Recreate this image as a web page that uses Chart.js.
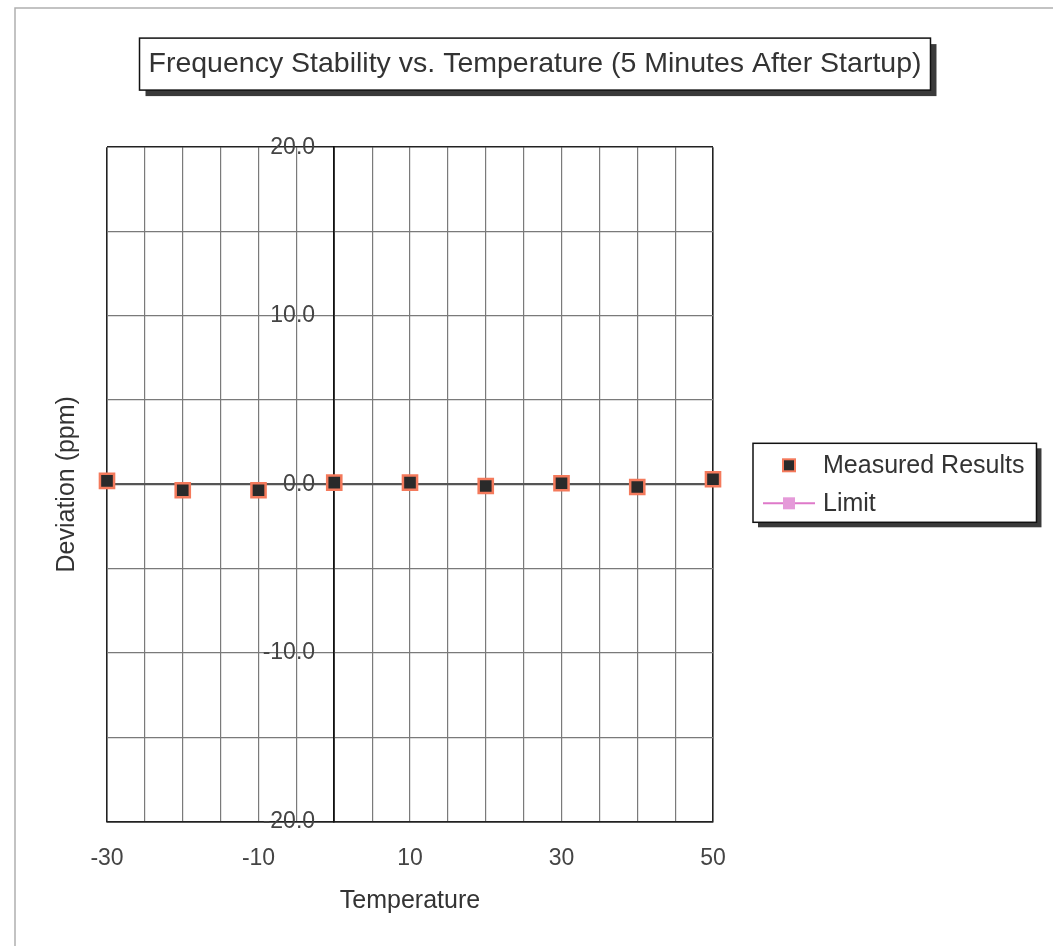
<!DOCTYPE html>
<html><head><meta charset="utf-8">
<script src="https://cdn.jsdelivr.net/npm/chart.js@4.4.1/dist/chart.umd.min.js"></script>
<style>html,body{margin:0;padding:0;background:#fff;} canvas{display:block;}</style>
</head><body>
<canvas id="c" width="1053" height="946"></canvas>
<script>
// ---- data ----
const chartTitle = 'Frequency Stability vs. Temperature (5 Minutes After Startup)';
const xAxisTitle = 'Temperature';
const yAxisTitle = 'Deviation (ppm)';
const seriesNames = ['Measured Results', 'Limit'];
const temperatures = [-30, -20, -10, 0, 10, 20, 30, 40, 50];
const measuredDeviation = [0.2, -0.35, -0.35, 0.1, 0.1, -0.1, 0.06, -0.16, 0.3];
const limitTemperatures = [];
const limitDeviation = [];
const xTickLabels = ['-30', '-10', '10', '30', '50'];
const yTickLabels = ['-20.0', '-10.0', '0.0', '10.0', '20.0'];

const FONT = "'Liberation Sans', Arial, Helvetica, sans-serif";
const LEGEND_FONT_SIZE = 25;

function drawLegendIcon(ctx, ds, cx, cy) {
  if (ds.showLine) {
    ctx.strokeStyle = ds.borderColor; ctx.lineWidth = 2;
    ctx.beginPath(); ctx.moveTo(cx - 26, cy); ctx.lineTo(cx + 26, cy); ctx.stroke();
  }
  ctx.fillStyle = ds.pointBackgroundColor;
  ctx.fillRect(cx - 6, cy - 6, 12, 12);
  if (ds.pointBorderColor !== ds.pointBackgroundColor) {
    ctx.strokeStyle = ds.pointBorderColor; ctx.lineWidth = 2;
    ctx.strokeRect(cx - 6, cy - 6, 12, 12);
  }
}

const framePlugin = {
  id: 'frames',
  beforeDraw(chart) {
    const ctx = chart.ctx;
    ctx.save();
    // scanned page border
    ctx.strokeStyle = '#b0b0b0'; ctx.lineWidth = 1.5;
    ctx.beginPath(); ctx.moveTo(15, chart.height); ctx.lineTo(15, 8); ctx.lineTo(chart.width, 8); ctx.stroke();
    // title frame
    const tb = chart.titleBlock;
    const tf = tb.options.font;
    ctx.font = tf.size + 'px ' + tf.family;
    const tw = ctx.measureText(chartTitle).width;
    const cx = (tb.left + tb.right) / 2;
    const cy = tb.top + tb.options.padding.top + tf.size * 1.2 / 2;
    const bx = cx - tw / 2 - 9, by = cy - 26, bw = tw + 18, bh = 52;
    ctx.fillStyle = '#3a3a3a'; ctx.fillRect(bx + 6, by + 6, bw, bh);
    ctx.fillStyle = '#fff'; ctx.fillRect(bx, by, bw, bh);
    ctx.strokeStyle = '#111'; ctx.lineWidth = 1.5; ctx.strokeRect(bx, by, bw, bh);
    ctx.restore();
  },
  afterDraw(chart) {
    // legend (right of plot)
    const ctx = chart.ctx;
    const area = chart.chartArea;
    const dsets = chart.data.datasets;
    ctx.save();
    ctx.font = LEGEND_FONT_SIZE + 'px ' + FONT;
    let maxW = 0;
    dsets.forEach(d => { maxW = Math.max(maxW, ctx.measureText(d.label).width); });
    const rowH = 38;
    const midY = (area.top + area.bottom) / 2;
    const left = area.right + 40;
    const top = midY - dsets.length * rowH / 2 - 3;
    const width = 70 + maxW + 12;
    const height = dsets.length * rowH + 3;
    ctx.fillStyle = '#3a3a3a'; ctx.fillRect(left + 5, top + 5, width, height);
    ctx.fillStyle = '#fff'; ctx.fillRect(left, top, width, height);
    ctx.strokeStyle = '#111'; ctx.lineWidth = 1.5; ctx.strokeRect(left, top, width, height);
    dsets.forEach((d, i) => {
      const cy = top + 22 + i * rowH;
      drawLegendIcon(ctx, d, left + 36, cy);
      ctx.fillStyle = '#333';
      ctx.textAlign = 'left'; ctx.textBaseline = 'middle';
      ctx.fillText(d.label, left + 70, cy + 1);
    });
    ctx.restore();
  }
};

const xy = (xs, ys) => xs.map((x, i) => ({ x: x, y: ys[i] }));
const GRID = '#7a7a7a';

new Chart(document.getElementById('c'), {
  type: 'scatter',
  data: {
    datasets: [
      {
        label: seriesNames[0],
        data: xy(temperatures, measuredDeviation),
        showLine: false,
        clip: false,
        pointStyle: 'rect',
        pointRadius: 10,
        pointHoverRadius: 10,
        pointBackgroundColor: '#2a2a2a',
        pointBorderColor: '#f47a5c',
        pointBorderWidth: 2.5,
        borderColor: '#f47a5c',
        backgroundColor: '#2a2a2a'
      },
      {
        label: seriesNames[1],
        data: xy(limitTemperatures, limitDeviation),
        showLine: true,
        clip: false,
        pointStyle: 'rect',
        pointRadius: 8,
        pointBackgroundColor: '#e59ad9',
        pointBorderColor: '#e59ad9',
        borderColor: '#de79c9',
        borderWidth: 2,
        backgroundColor: '#e59ad9'
      }
    ]
  },
  options: {
    responsive: false,
    animation: false,
    events: [],
    layout: { padding: { left: 27, right: 10, top: 0, bottom: 26 } },
    plugins: {
      tooltip: { enabled: false },
      legend: { display: false },
      title: {
        display: true,
        text: chartTitle,
        color: '#333',
        font: { family: FONT, size: 28.5, weight: 'normal' },
        padding: { top: 47, bottom: 66 }
      }
    },
    scales: {
      x: {
        type: 'linear',
        position: 'bottom',
        min: -30, max: 50,
        ticks: {
          stepSize: 5, autoSkip: false, maxRotation: 0, padding: 23,
          color: '#444', font: { family: FONT, size: 23 },
          callback: (v) => xTickLabels.includes(String(v)) ? String(v) : ''
        },
        grid: {
          drawTicks: false,
          color: (c) => (c.tick.value === 0 ? '#111' : (c.tick.value === -30 || c.tick.value === 50) ? '#222' : GRID),
          lineWidth: (c) => (c.tick.value === 0 || c.tick.value === -30 || c.tick.value === 50) ? 1.6 : 1.2
        },
        border: { display: true, color: '#222', width: 1.6 },
        title: {
          display: true, text: xAxisTitle, color: '#333',
          font: { family: FONT, size: 25 },
          padding: { top: -9, bottom: 4 }
        }
      },
      y: {
        type: 'linear',
        position: { x: 0 },
        min: -20, max: 20,
        ticks: {
          stepSize: 5, autoSkip: false, padding: 22,
          color: '#444', font: { family: FONT, size: 23 },
          callback: (v) => { const s = Number(v).toFixed(1); return yTickLabels.includes(s) ? s + '   ' : ''; }
        },
        grid: {
          drawTicks: false,
          color: (c) => (c.tick.value === 0 ? '#555' : (c.tick.value === -20 || c.tick.value === 20) ? '#222' : GRID),
          lineWidth: (c) => (c.tick.value === 0 ? 2.2 : (c.tick.value === -20 || c.tick.value === 20) ? 1.6 : 1.2)
        },
        border: { display: true, color: '#111', width: 1.6 }
      },
      yTitle: {
        type: 'linear',
        position: 'left',
        min: -20, max: 20,
        ticks: { display: false },
        grid: { display: false, drawTicks: false },
        border: { display: false },
        title: {
          display: true, text: yAxisTitle, color: '#333',
          font: { family: FONT, size: 25 },
          padding: { top: 25, bottom: 25 }
        }
      },
      yPad: {
        type: 'linear',
        position: 'right',
        min: -20, max: 20,
        ticks: { display: false },
        grid: { display: false, drawTicks: false },
        border: { display: false },
        afterFit: (s) => { s.width = 330; }
      }
    }
  },
  plugins: [framePlugin]
});
</script>
</body></html>
